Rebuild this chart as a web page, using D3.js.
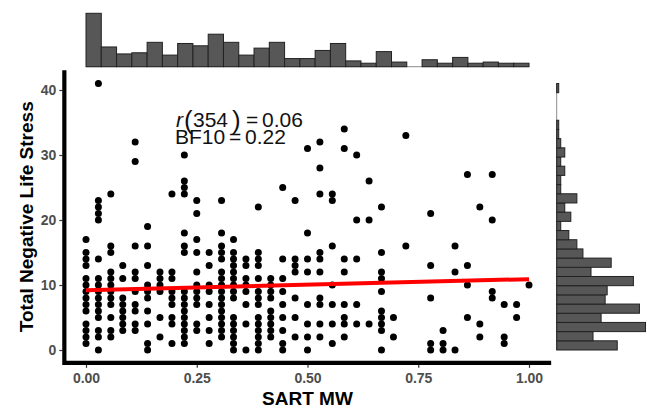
<!DOCTYPE html>
<html><head><meta charset="utf-8">
<script src="https://cdn.jsdelivr.net/npm/d3@7"></script>
<style>body{margin:0;background:#fff}</style>
</head><body><svg id="c" width="647" height="408"></svg>
<script>
// SART MW levels (columns of points)
const mwLevels = [0, 0.028, 0.056, 0.083, 0.111, 0.139, 0.167, 0.194, 0.222, 0.25, 0.278, 0.306,
  0.333, 0.361, 0.389, 0.417, 0.444, 0.472, 0.5, 0.528, 0.556, 0.583, 0.611, 0.639, 0.667,
  0.694, 0.722, 0.75, 0.778, 0.806, 0.833, 0.861, 0.889, 0.917, 0.944, 0.972, 1];
// Total Negative Life Stress values observed at each level
const stressByLevel = [
  [17,15,14,13,11,10,9,8,7,6,4,3,2,1],
  [41,23,22,21,20,14,11,10,9,8,7,6,5,3,2,0],
  [24,16,15,12,11,10,9,8,7,5,3,2],
  [13,11,8,7,6,5,4,3],
  [32,29,16,12,11,9,7,6,4,3],
  [19,16,13,10,9,8,6,4,1,0],
  [12,11,10,9,5,2],
  [24,12,11,9,8,7,5,4,1],
  [30,26,25,24,18,16,15,9,8,7,6,5,4,3,2,1],
  [23,21,17,15,12,10,9,8,7,4,3],
  [15,13,10,9,7,5,3,1],
  [23,18,16,15,14,12,11,10,9,8,7,6,5,4,3,2],
  [17,15,14,13,12,11,10,9,8,5,4,3,2,1,0],
  [14,13,11,10,9,7,4,0],
  [22,15,14,13,11,9,8,7,5,4,3,2,1,0],
  [11,10,9,8,6,5,4,3,2],
  [25,14,11,9,7,5,3,1,0],
  [23,14,13,12,8,5,2],
  [31,18,14,12,7,4,2,0],
  [32,28,24,15,14,12,8,7,4,2],
  [24,23,16,10,7,4,1],
  [34,31,14,12,7,5,4,2],
  [30,20,14,7,4],
  [26,20,4],
  [22,15,12,11,9,6,5,4,3,0],
  [5,2],
  [33,16],
  [],
  [21,13,8,1,0],
  [3,1,0],
  [16,12,0],
  [27,13,10,5],
  [22,4,2],
  [27,20,9,8],
  [7,2,1],
  [7,5],
  [10]
];
// marginal histogram counts (29 bins each)
const topHistCounts = [46,17,11,12,21,10,20,18,28,21,10,16,21,7,7,14,20,5,3,13,4,0,6,3,8,3,4,3,3];
const rightHistCounts = [30,18,44,22,41,24,25,38,17,27,13,10,6,2,7,4,10,2,2,4,2,4,2,1,1,0,0,0,1];
const xTicks = [0, 0.25, 0.5, 0.75, 1];
const xTickLabels = ["0.00", "0.25", "0.50", "0.75", "1.00"];
const yTicks = [0, 10, 20, 30, 40];
const fitLine = [[0, 9.2], [1, 10.9]];
const xTitle = "SART MW";
const yTitle = "Total Negative Life Stress";
const rDf = "354", rValue = "0.06", bfValue = "0.22";

const svg = d3.select('#c');
const x = d3.scaleLinear().domain([0, 1]).range([86, 529]);
const y = d3.scaleLinear().domain([0, 41]).range([350, 83.5]);
const xMin = x(-0.05), xMax = x(1.05), yMin = y(-2.05), yMax = y(43.05);
const ff = 'Liberation Sans, Arial, sans-serif';

// top histogram
const nb = topHistCounts.length;
const topH = d3.scaleLinear().domain([0, d3.max(topHistCounts)]).range([66.7, 13.3]);
const gt = svg.append('g');
gt.selectAll('line').data(topHistCounts).join('line')
  .attr('x1', (d, i) => x(i / nb)).attr('x2', (d, i) => x((i + 1) / nb))
  .attr('y1', topH(0)).attr('y2', topH(0)).attr('stroke', '#8a8a8a').attr('stroke-width', 1);
gt.selectAll('rect').data(topHistCounts.map((c, i) => [c, i]).filter(d => d[0] > 0)).join('rect')
  .attr('x', d => x(d[1] / nb)).attr('width', x(1 / nb) - x(0))
  .attr('y', d => topH(d[0])).attr('height', d => topH(0) - topH(d[0]))
  .attr('fill', '#575757').attr('stroke', '#222').attr('stroke-width', 1);

// right histogram
const nr = rightHistCounts.length;
const yMaxData = 41;
const rightW = d3.scaleLinear().domain([0, d3.max(rightHistCounts)]).range([556.7, 645.5]);
const gr = svg.append('g');
gr.selectAll('line').data(rightHistCounts).join('line')
  .attr('x1', rightW(0)).attr('x2', rightW(0))
  .attr('y1', (d, i) => y(i * yMaxData / nr)).attr('y2', (d, i) => y((i + 1) * yMaxData / nr))
  .attr('stroke', '#8a8a8a').attr('stroke-width', 1);
gr.selectAll('rect').data(rightHistCounts.map((c, i) => [c, i]).filter(d => d[0] > 0)).join('rect')
  .attr('x', rightW(0)).attr('width', d => rightW(d[0]) - rightW(0))
  .attr('y', d => y((d[1] + 1) * yMaxData / nr)).attr('height', y(0) - y(yMaxData / nr))
  .attr('fill', '#575757').attr('stroke', '#222').attr('stroke-width', 1);

// axes
const xAxis = d3.axisBottom(x).tickValues(xTicks).tickFormat((d, i) => xTickLabels[i]).tickSize(3).tickPadding(5);
const gx = svg.append('g').attr('transform', `translate(0,${yMin + 1.5})`).call(xAxis);
gx.select('.domain').remove();
gx.selectAll('line').attr('stroke', '#333').attr('stroke-width', 1.2);
gx.selectAll('text').attr('fill', '#4d4d4d').attr('font-family', ff)
  .attr('font-weight', 'bold').attr('font-size', 14);

const yAxis = d3.axisLeft(y).tickValues(yTicks).tickSize(3).tickPadding(3);
const gy = svg.append('g').attr('transform', `translate(${xMin - 1.5},0)`).call(yAxis);
gy.select('.domain').remove();
gy.selectAll('line').attr('stroke', '#333').attr('stroke-width', 1.2);
gy.selectAll('text').attr('fill', '#4d4d4d').attr('font-family', ff)
  .attr('font-weight', 'bold').attr('font-size', 14);

svg.append('path')
  .attr('d', `M${xMin + 0.5},${yMax} L${xMin + 0.5},${yMin - 0.5} L${xMax},${yMin - 0.5}`)
  .attr('fill', 'none').attr('stroke', '#000').attr('stroke-width', 4.2);

// points
const pts = [];
mwLevels.forEach((m, i) => stressByLevel[i].forEach(s => pts.push([m, s])));
svg.append('g').selectAll('circle').data(pts).join('circle')
  .attr('cx', d => x(d[0])).attr('cy', d => y(d[1])).attr('r', 3.5).attr('fill', '#000');

// fit line
svg.append('path').datum(fitLine)
  .attr('d', d3.line().x(d => x(d[0])).y(d => y(d[1])))
  .attr('stroke', '#ff0000').attr('stroke-width', 4).attr('fill', 'none');

// stats annotation (plotmath style)
const ann = svg.append('g').attr('font-family', ff).attr('fill', '#111').attr('font-size', 21);
ann.append('text').attr('x', 176).attr('y', 126.5).attr('font-style', 'italic').text('r');
ann.append('text').attr('x', 184).attr('y', 128.5).attr('font-size', 26).text('(');
ann.append('text').attr('x', 193).attr('y', 126.5).text(rDf);
ann.append('text').attr('x', 232).attr('y', 128.5).attr('font-size', 26).text(')');
ann.append('text').attr('x', 246).attr('y', 126.5).text('=');
ann.append('text').attr('x', 262).attr('y', 126.5).text(rValue);
ann.append('text').attr('x', 175).attr('y', 143.5).text('BF10');
ann.append('text').attr('x', 229).attr('y', 143.5).text('=');
ann.append('text').attr('x', 245).attr('y', 143.5).text(bfValue);

// titles
svg.append('text').attr('x', (xMin + xMax) / 2).attr('y', 405).attr('text-anchor', 'middle')
  .attr('font-family', ff).attr('font-weight', 'bold').attr('font-size', 19).attr('fill', '#000').text(xTitle);
svg.append('text').attr('transform', `translate(33,${(yMin + yMax) / 2}) rotate(-90)`).attr('text-anchor', 'middle')
  .attr('font-family', ff).attr('font-weight', 'bold').attr('font-size', 19).attr('fill', '#000').text(yTitle);
</script></body></html>
